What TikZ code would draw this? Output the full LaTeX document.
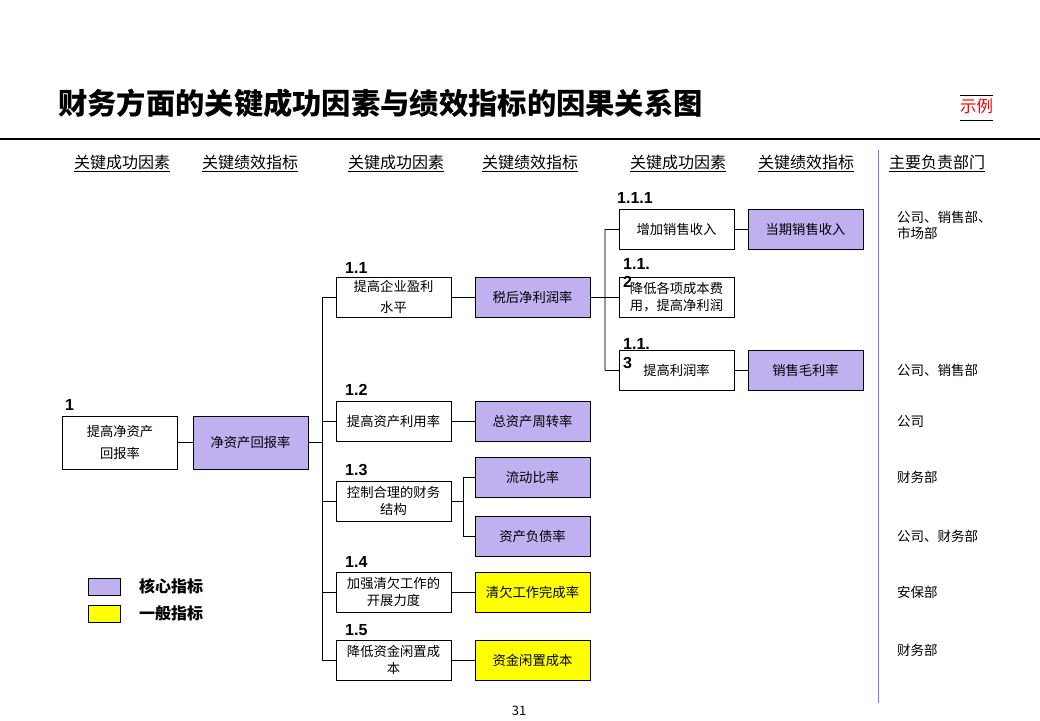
\documentclass[tikz,border=0pt]{standalone}
\usepackage{fontspec}
\setmainfont{Noto Sans CJK SC}
\newfontfamily\numfont{Liberation Sans}
\definecolor{core}{RGB}{192,176,240}
\definecolor{gen}{RGB}{255,255,0}
\definecolor{sepblue}{RGB}{120,120,255}
\begin{document}
\begin{tikzpicture}[x=1pt,y=-1pt,
  boxbase/.style={draw=black, line width=0.9pt, minimum width=115pt, minimum height=40pt, inner sep=1pt, align=center, font=\fontsize{13.3}{16.5}\selectfont},
  csf/.style={boxbase, fill=white},
  kpicore/.style={boxbase, fill=core},
  kpigen/.style={boxbase, fill=gen},
  num/.style={anchor=west, inner sep=0pt, font=\numfont\bfseries\fontsize{16}{17}\selectfont, align=left},
  hdr/.style={inner sep=0pt, font=\fontsize{16}{18}\selectfont},
  dept/.style={anchor=west, inner sep=0pt, align=left, font=\fontsize{13.5}{16}\selectfont},
  conn/.style={line width=0.9pt, draw=black}
]
\useasboundingbox (0,0) rectangle (1040,720);
% title
\node[anchor=west, inner sep=0pt, font=\bfseries\fontsize{29.3}{31}\selectfont] (title) at (58,103) {财务方面的关键成功因素与绩效指标的因果关系图};
\node[inner sep=0pt, text=red, font=\fontsize{16.5}{18}\selectfont] (ex) at (976.5,106) {示例};
\draw[line width=1pt] (960,95) -- (993,95);
\draw[line width=1pt] (960,120) -- (993,120);
\draw[line width=1.2pt] (0,139) -- (1040,139);
% headers
\node[hdr] (h1) at (122,163) {\underline{关键成功因素}};
\node[hdr] (h2) at (250,163) {\underline{关键绩效指标}};
\node[hdr] (h3) at (396,163) {\underline{关键成功因素}};
\node[hdr] (h4) at (530,163) {\underline{关键绩效指标}};
\node[hdr] (h5) at (678,163) {\underline{关键成功因素}};
\node[hdr] (h6) at (806,163) {\underline{关键绩效指标}};
\node[hdr] (h7) at (937,163) {\underline{主要负责部门}};
\draw[sepblue, line width=1pt] (878,150) -- (878,703);
% level 1
\node[csf, minimum height=53pt] (c1) at (120,442.5) {提高净资产\\[5pt]回报率};
\node[kpicore, minimum height=53pt] (k1) at (250.5,442.5) {净资产回报率};
\node[num] (n1) at (65,405) {1};
% level 2
\node[csf] (c11) at (393.5,297) {提高企业盈利\\[5pt]水平};
\node[csf] (c12) at (393.5,421) {提高资产利用率};
\node[csf] (c13) at (393.5,501) {控制合理的财务\\结构};
\node[csf] (c14) at (393.5,592) {加强清欠工作的\\开展力度};
\node[csf] (c15) at (393.5,660) {降低资金闲置成\\本};
\node[num] (n11) at (345,268) {1.1};
\node[num] (n12) at (345,390) {1.2};
\node[num] (n13) at (345,470) {1.3};
\node[num] (n14) at (345,562) {1.4};
\node[num] (n15) at (345,630) {1.5};
\node[kpicore] (k11) at (532.5,297) {税后净利润率};
\node[kpicore] (k12) at (532.5,421) {总资产周转率};
\node[kpicore] (k13a) at (532.5,477) {流动比率};
\node[kpicore] (k13b) at (532.5,536) {资产负债率};
\node[kpigen] (k14) at (532.5,592) {清欠工作完成率};
\node[kpigen] (k15) at (532.5,660) {资金闲置成本};
% level 3
\node[csf] (c111) at (676.5,229) {增加销售收入};
\node[csf] (c112) at (676.5,297) {降低各项成本费\\用，提高净利润};
\node[csf] (c113) at (676.5,370) {提高利润率};
\node[kpicore] (k111) at (805.5,229) {当期销售收入};
\node[kpicore] (k113) at (805.5,370) {销售毛利率};
\node[num] (n111) at (617,198) {1.1.1};
\node[num, anchor=north west] (n112) at (623,258) {1.1.\\[1pt]2};
\node[num, anchor=north west] (n113) at (623,338) {1.1.\\[2pt]3};
% departments
\node[dept] (d1) at (897,225) {公司、销售部、\\市场部};
\node[dept] (d2) at (897,370) {公司、销售部};
\node[dept] (d3) at (897,421) {公司};
\node[dept] (d4) at (897,477) {财务部};
\node[dept] (d5) at (897,536) {公司、财务部};
\node[dept] (d6) at (897,592) {安保部};
\node[dept] (d7) at (897,650) {财务部};
% connectors level 1
\draw[conn] (c1.east) -- (k1.west);
\coordinate (sa) at (322,297);
\coordinate (sb) at (322,660);
\draw[conn] (k1.east) -- (k1.east -| sa);
\draw[conn] (sa) -- (sb);
\foreach \n in {c11,c12,c13,c14,c15} \draw[conn] (\n.west -| sa) -- (\n.west);
\draw[conn] (c11.east) -- (k11.west);
\draw[conn] (c12.east) -- (k12.west);
\draw[conn] (c14.east) -- (k14.west);
\draw[conn] (c15.east) -- (k15.west);
\coordinate (tc) at (463,477);
\coordinate (td) at (463,536);
\draw[conn] (c13.east) -- (c13.east -| tc);
\draw[conn] (k13a.west) -| (td) -- (k13b.west);
% level 3 connectors
\coordinate (ga) at (605,229);
\coordinate (gb) at (605,370);
\draw[gray!80, line width=1.6pt] (ga) -- (gb);
\draw[conn] (k11.east) -- (c112.west);
\draw[conn] (ga) -- (c111.west);
\draw[conn] (gb) -- (c113.west);
\draw[conn] (c111.east) -- (k111.west);
\draw[conn] (c113.east) -- (k113.west);
% legend
\node[draw=black, line width=0.9pt, fill=core, minimum width=32pt, minimum height=17pt, inner sep=0pt] (lg1) at (104,586.5) {};
\node[draw=black, line width=0.9pt, fill=gen, minimum width=32pt, minimum height=17pt, inner sep=0pt] (lg2) at (104,613.5) {};
\node[anchor=west, inner sep=0pt, font=\bfseries\fontsize{16}{18}\selectfont] (lt1) at (139,586) {核心指标};
\node[anchor=west, inner sep=0pt, font=\bfseries\fontsize{16}{18}\selectfont] (lt2) at (139,613) {一般指标};
% page number
\node[inner sep=0pt, font=\fontsize{13}{15}\selectfont] (pg) at (519,711) {31};
\end{tikzpicture}
\end{document}
